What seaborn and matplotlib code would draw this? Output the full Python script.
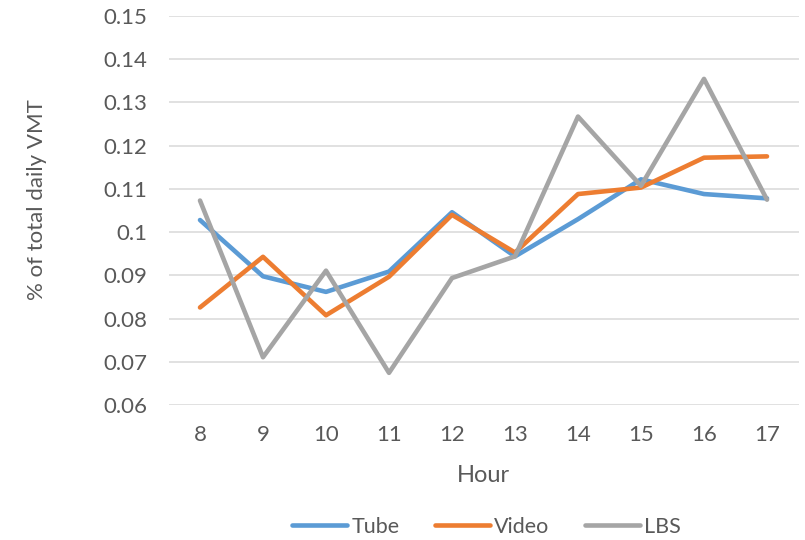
import matplotlib
matplotlib.use("Agg")
import matplotlib.pyplot as plt
import seaborn as sns
import pandas as pd

hours = [8, 9, 10, 11, 12, 13, 14, 15, 16, 17]
tube = [0.1028, 0.0898, 0.0862, 0.0909, 0.1046, 0.0944, 0.1030, 0.1122, 0.1088, 0.1078]
video = [0.0826, 0.0943, 0.0808, 0.0897, 0.1040, 0.0953, 0.1088, 0.1103, 0.1172, 0.1175]
lbs = [0.1073, 0.0711, 0.0911, 0.0675, 0.0894, 0.0944, 0.1267, 0.1107, 0.1354, 0.1075]
series_names = ["Tube", "Video", "LBS"]
palette = ["#5B9BD5", "#ED7D31", "#A5A5A5"]
y_ticks = [0.06, 0.07, 0.08, 0.09, 0.1, 0.11, 0.12, 0.13, 0.14, 0.15]
y_tick_labels = ["0.06", "0.07", "0.08", "0.09", "0.1", "0.11", "0.12", "0.13", "0.14", "0.15"]

df = pd.DataFrame({
    "Hour": hours * 3,
    "value": tube + video + lbs,
    "series": [s for s in series_names for _ in hours],
})

sns.set_theme(style="white")
plt.rcParams["font.family"] = ["Lato", "DejaVu Sans"]
text_color = "#595959"

W, H = 805, 540
fig = plt.figure(figsize=(W / 100, H / 100), dpi=100)
ax = fig.add_axes([168.5 / W, 1 - 405.3 / H, 630 / W, (405.3 - 15.7) / H])

sns.lineplot(data=df, x="Hour", y="value", hue="series", hue_order=series_names,
             palette=palette, linewidth=3.3, ax=ax, legend=True,
             solid_capstyle="round", solid_joinstyle="round")

ax.set_xlim(7.5, 17.5)
ax.set_xticks(hours)
ax.set_xticklabels([str(h) for h in hours])
ax.set_yticks(y_ticks)
ax.set_yticklabels(y_tick_labels)
ax.set_ylim(0.06, 0.15)
ax.yaxis.grid(True, color="#D9D9D9", linewidth=1.1)
ax.xaxis.grid(False)
ax.set_axisbelow(True)
for sp in ax.spines.values():
    sp.set_visible(False)
ax.tick_params(axis="both", length=0, labelsize=16, colors=text_color)
ax.tick_params(axis="y", pad=15.5)
ax.tick_params(axis="x", pad=14)
ax.set_xlabel("")
ax.set_ylabel("")
fig.text(483 / W, 1 - 476 / H, "Hour", fontsize=17, color=text_color,
         ha="center", va="center")
fig.text(37 / W, 1 - 200 / H, "% of total daily VMT", fontsize=16, color=text_color,
         ha="center", va="center", rotation=90)

handles, labels = ax.get_legend_handles_labels()
leg = ax.legend(handles, labels, loc="center", ncol=3, frameon=False,
                fontsize=15.5, handlelength=2.55, handletextpad=0.2, columnspacing=1.65)
leg.set_bbox_to_anchor((486.5 / W, 1 - 527 / H), transform=fig.transFigure)
for t in leg.get_texts():
    t.set_color(text_color)
for line in leg.get_lines():
    line.set_linewidth(3.3)
    line.set_solid_capstyle("round")

fig.savefig("out.png", dpi=100)
